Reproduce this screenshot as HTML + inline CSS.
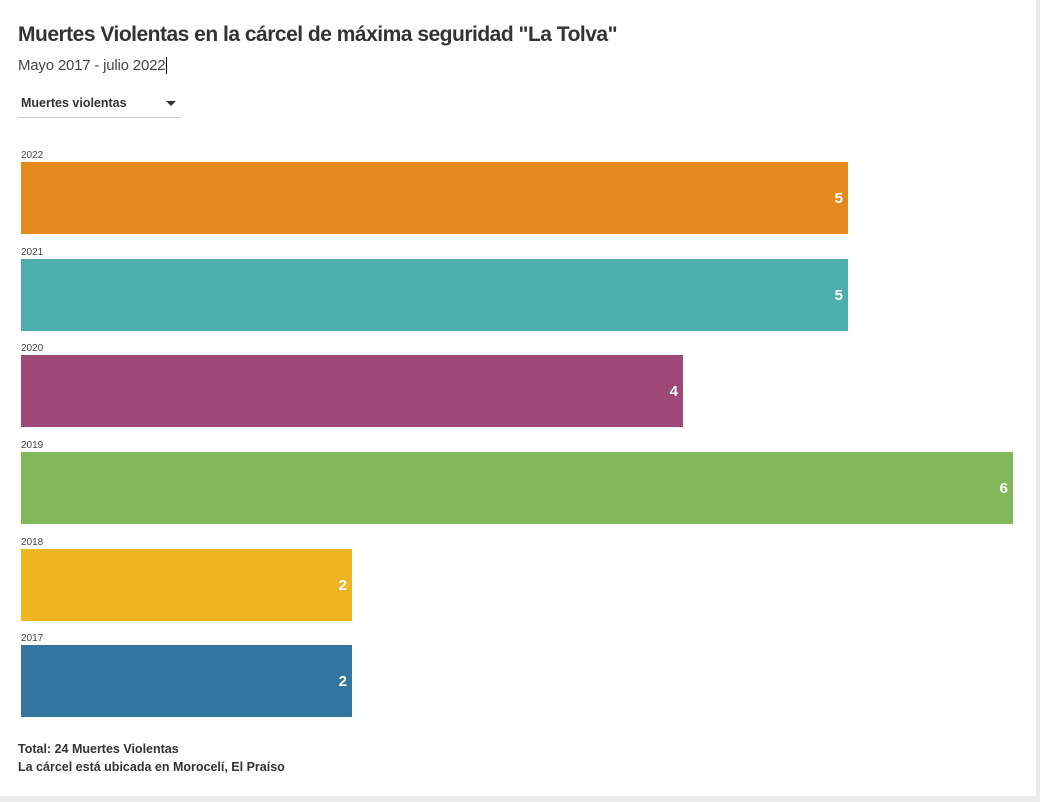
<!DOCTYPE html>
<html><head><meta charset="utf-8"><style>
body{margin:0;width:1040px;height:802px;background:#ebebeb;font-family:"Liberation Sans",sans-serif;position:relative;overflow:hidden}
.card{position:absolute;left:0;top:0;width:1036px;height:796px;background:#fff}
.t{position:absolute;left:18px;top:23px;font-size:21px;font-weight:bold;color:#333;letter-spacing:-0.5px}
.s{position:absolute;left:18px;top:57px;font-size:15px;color:#444;letter-spacing:-0.2px}
.dd{position:absolute;left:18px;top:94px;width:162px;height:23px;border-bottom:1px solid #ccc;font-size:12.5px;font-weight:bold;color:#333}
.dd span{position:absolute;left:3px;top:2px}
.dd i{position:absolute;left:148px;top:7px;width:0;height:0;border-left:5px solid transparent;border-right:5px solid transparent;border-top:5px solid #333}
.y{position:absolute;left:21px;font-size:10px;color:#444}
.b{position:absolute;left:21px;height:72px}
.b span{position:absolute;right:5px;top:28px;color:#fff;font-weight:bold;font-size:15px}
.f{position:absolute;left:18px;font-size:12.5px;font-weight:bold;color:#333}
</style></head><body><div class="card">
<div class="t">Muertes Violentas en la cárcel de máxima seguridad "La Tolva"</div>
<div class="s">Mayo 2017 - julio 2022<span style="border-left:1px solid #000;margin-left:1px"></span></div>
<div class="dd"><span>Muertes violentas</span><i></i></div>
<div class="y" style="top:150px">2022</div><div class="b" style="top:162px;width:827px;background:#e4891e"><span>5</span></div>
<div class="y" style="top:247px">2021</div><div class="b" style="top:259px;width:827px;background:#4eaeae"><span>5</span></div>
<div class="y" style="top:343px">2020</div><div class="b" style="top:355px;width:662px;background:#9e4977"><span>4</span></div>
<div class="y" style="top:440px">2019</div><div class="b" style="top:452px;width:992px;background:#80b75a"><span>6</span></div>
<div class="y" style="top:537px">2018</div><div class="b" style="top:549px;width:331px;background:#efb421"><span>2</span></div>
<div class="y" style="top:633px">2017</div><div class="b" style="top:645px;width:331px;background:#33759f"><span>2</span></div>
<div class="f" style="top:742px">Total: 24 Muertes Violentas</div>
<div class="f" style="top:760px">La cárcel está ubicada en Morocelí, El Praíso</div>
</div></body></html>
